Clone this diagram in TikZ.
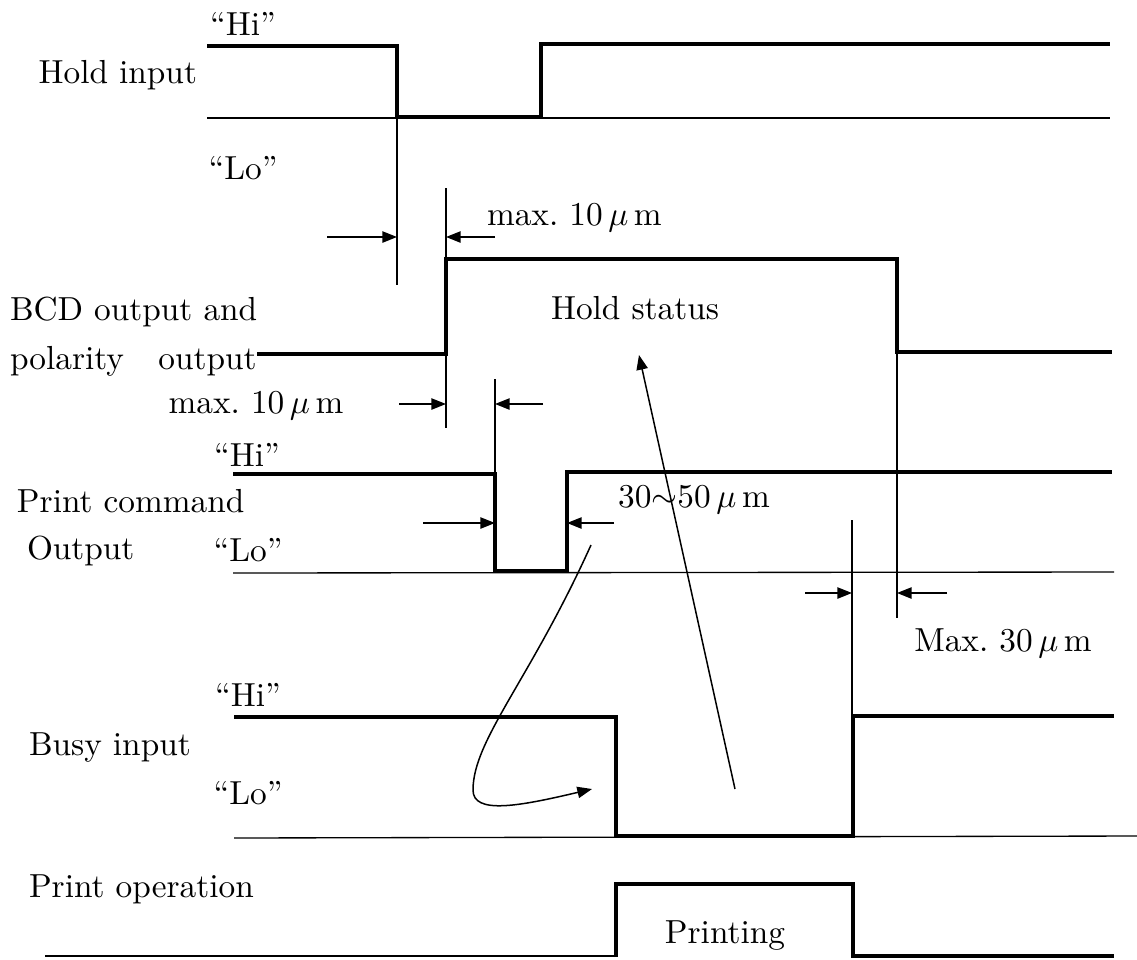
\documentclass[tikz,border=0pt]{standalone}
\usepackage{fontspec}
\usetikzlibrary{arrows.meta}
\tikzset{
  sig/.style={line width=1.2pt,line join=miter},
  base/.style={line width=0.4pt},
  dimarrow/.style={line width=0.45pt,-{Triangle[length=4.4pt,width=3.4pt]}},
  lab/.style={inner sep=0pt,outer sep=0pt,font=\fontsize{10}{12}\selectfont},
}
\begin{document}
\begin{tikzpicture}[x=0.3pt,y=-0.3pt]
\definecolor{fillColor}{RGB}{255,255,255}
\definecolor{drawColor}{RGB}{0,0,0}
\path[use as bounding box,fill=fillColor] (0,0) rectangle (1137,959);

\begin{scope}
\path[draw=drawColor,sig] (207,46) -- (397,46) -- (397,117) -- (541,117) -- (541,44) -- (1110,44);
\path[draw=drawColor,base] (207,118) -- (1110,118);
\node[lab,text=drawColor] (holdHi) at (243,24) {``Hi''};
\node[lab,text=drawColor] (holdLo) at (243,168) {``Lo''};
\node[lab,text=drawColor,anchor=east] (holdLab) at (197,75) {Hold input};
\end{scope}

\begin{scope}
\path[draw=drawColor,base] (397,118) -- (397,285);
\path[draw=drawColor,base] (446,188) -- (446,259);
\path[draw=drawColor,dimarrow] (327,237) -- (397,237);
\path[draw=drawColor,dimarrow] (495,237) -- (446,237);
\node[lab,text=drawColor,anchor=west] (dimA) at (487,218) {max.\ 10\,$\mu$\,m};
\end{scope}

\begin{scope}
\path[draw=drawColor,sig] (257,354) -- (446,354) -- (446,259) -- (897,259) -- (897,352) -- (1112,352);
\path[draw=drawColor,base] (446,354) -- (446,428);
\path[draw=drawColor,base] (495,379) -- (495,474);
\path[draw=drawColor,dimarrow] (399,404) -- (446,404);
\path[draw=drawColor,dimarrow] (543,404) -- (495,404);
\node[lab,text=drawColor] (dimB) at (256,406) {max.\ 10\,$\mu$\,m};
\node[lab,text=drawColor] (holdStatus) at (635,308) {Hold status};
\node[lab,text=drawColor,anchor=west] (bcdLabA) at (10,312) {BCD output and};
\node[lab,text=drawColor,anchor=west] (bcdLabB) at (10,361) {polarity\hspace{7pt} output};
\end{scope}

\begin{scope}
\path[draw=drawColor,sig] (233,474) -- (495,474) -- (495,571) -- (567,571) -- (567,472) -- (1112,472);
\path[draw=drawColor,base] (233,573) -- (1114,572);
\path[draw=drawColor,dimarrow] (423,523) -- (495,523);
\path[draw=drawColor,dimarrow] (614,523) -- (567,523);
\node[lab,text=drawColor] (dimC) at (694,500) {30$\sim$50\,$\mu$\,m};
\node[lab,text=drawColor] (cmdHi) at (247,455) {``Hi''};
\node[lab,text=drawColor] (cmdLo) at (248,550) {``Lo''};
\node[lab,text=drawColor,anchor=west] (cmdLabA) at (17,501) {Print command};
\node[lab,text=drawColor,anchor=west] (cmdLabB) at (27,551) {Output};
\end{scope}

\begin{scope}
\path[draw=drawColor,base] (897,352) -- (897,618);
\path[draw=drawColor,base] (852,520) -- (852,716);
\path[draw=drawColor,dimarrow] (805,593) -- (852,593);
\path[draw=drawColor,dimarrow] (947,593) -- (897,593);
\node[lab,text=drawColor] (dimD) at (1003,643) {Max.\ 30\,$\mu$\,m};
\end{scope}

\begin{scope}
\path[draw=drawColor,sig] (234,717) -- (616,717) -- (616,836) -- (853,836) -- (853,716) -- (1114,716);
\path[draw=drawColor,base] (234,838) -- (1137,836);
\node[lab,text=drawColor] (busyHi) at (248,695) {``Hi''};
\node[lab,text=drawColor] (busyLo) at (248,793) {``Lo''};
\node[lab,text=drawColor,anchor=west] (busyLab) at (29,748) {Busy input};
\end{scope}

\begin{scope}
\path[draw=drawColor,line width=0.7pt] (45,956) -- (616,956);
\path[draw=drawColor,sig] (616,957) -- (616,884) -- (853,884) -- (853,956) -- (1114,956);
\node[lab,text=drawColor,anchor=west] (printLab) at (29,889) {Print operation};
\node[lab,text=drawColor] (printing) at (725,936) {Printing};
\end{scope}

\begin{scope}
\coordinate (statusFoot) at (735,789);
\coordinate (statusTip) at (639,355);
\coordinate (loopStart) at (591,545);
\coordinate (loopTip) at (592,789);
\path[draw=drawColor,dimarrow] (statusFoot) -- (statusTip);
\path[draw=drawColor,dimarrow] (loopStart) .. controls (530,680) and (473,740) .. (473,790)
	.. controls (473,815) and (520,806) .. (loopTip);
\end{scope}
\end{tikzpicture}
\end{document}
